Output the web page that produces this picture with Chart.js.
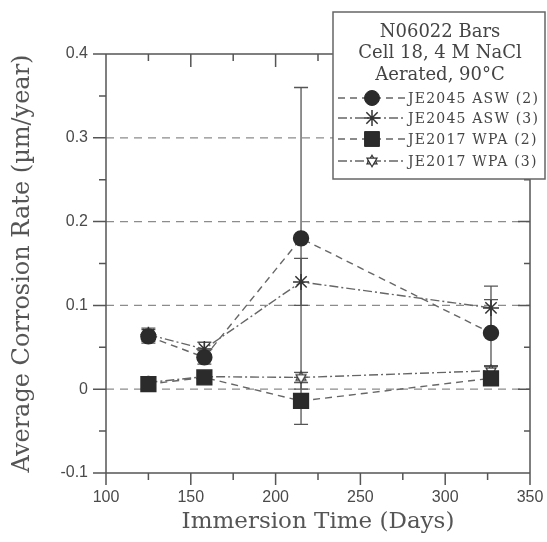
<!DOCTYPE html>
<html>
<head>
<meta charset="utf-8">
<script src="https://cdn.jsdelivr.net/npm/chart.js@4/dist/chart.umd.min.js"></script>
<style>
  html, body { margin: 0; padding: 0; background: #fff; }
  #wrap { width: 547px; height: 542px; }
</style>
</head>
<body>
<div id="wrap"><canvas id="corrosionChart" width="547" height="542"></canvas></div>
<script>
// immersion times (days)
const days = [125, 158, 215, 327];

// average corrosion rate (um/year) with +/- error for each series
const asw2Rate = [0.063, 0.038, 0.18, 0.067];
const asw2Err = [0.008, 0.008, 0.18, 0.04];
const asw3Rate = [0.065, 0.048, 0.128, 0.097];
const asw3Err = [0.008, 0.008, 0.028, 0.026];
const wpa2Rate = [0.006, 0.014, -0.014, 0.013];
const wpa2Err = [0.004, 0.006, 0.028, 0.008];
const wpa3Rate = [0.008, 0.015, 0.014, 0.022];
const wpa3Err = [0.006, 0.006, 0.006, 0.006];

const seriesNames = ["JE2045 ASW (2)", "JE2045 ASW (3)", "JE2017 WPA (2)", "JE2017 WPA (3)"];
const legendTitle = ["N06022 Bars", "Cell 18, 4 M NaCl", "Aerated, 90°C"];

const xTicks = [100, 150, 200, 250, 300, 350];
const yTicks = [-0.1, 0, 0.1, 0.2, 0.3, 0.4];
const yRefLines = [0, 0.1, 0.2, 0.3];

const xTitle = "Immersion Time (Days)";
const yTitle = "Average Corrosion Rate (\u00b5m/year)";

const lineGray = "#666";
const markDark = "#2b2b2b";
const axisGray = "#555";

// open six-pointed star used as a point style
function hexagram(size, lw) {
  const c = document.createElement("canvas");
  c.width = c.height = size;
  const g = c.getContext("2d");
  const r = size / 2 - lw;
  g.strokeStyle = "#333";
  g.fillStyle = "#fff";
  g.lineWidth = lw;
  [-Math.PI / 2, Math.PI / 2].forEach(rot => {
    g.beginPath();
    for (let i = 0; i < 3; i++) {
      const a = rot + i * 2 * Math.PI / 3;
      const px = size / 2 + r * Math.cos(a), py = size / 2 + r * Math.sin(a);
      if (i) g.lineTo(px, py); else g.moveTo(px, py);
    }
    g.closePath();
    g.fill();
    g.stroke();
  });
  return c;
}

const pts = rates => days.map((d, i) => ({ x: d, y: rates[i] }));

const datasets = [
  { label: seriesNames[0], data: pts(asw2Rate), err: asw2Err, borderDash: [7, 5],
    pointStyle: "circle", pointRadius: 7.5, pointBackgroundColor: markDark, pointBorderColor: markDark },
  { label: seriesNames[1], data: pts(asw3Rate), err: asw3Err, borderDash: [9, 3, 2, 3],
    pointStyle: "star", pointRadius: 8, pointBackgroundColor: markDark, pointBorderColor: "#333", pointBorderWidth: 1.5 },
  { label: seriesNames[2], data: pts(wpa2Rate), err: wpa2Err, borderDash: [7, 5],
    pointStyle: "rect", pointRadius: 10.5, pointBackgroundColor: markDark, pointBorderColor: markDark },
  { label: seriesNames[3], data: pts(wpa3Rate), err: wpa3Err, borderDash: [9, 3, 2, 3],
    pointStyle: hexagram(14, 1.2), pointRadius: 7 }
].map(ds => Object.assign({ borderColor: lineGray, borderWidth: 1.4, fill: false, tension: 0 }, ds));

// vertical error bars with caps
const errorBars = {
  id: "errorBars",
  beforeDatasetsDraw(chart) {
    const { ctx, scales: { y } } = chart;
    ctx.save();
    ctx.strokeStyle = axisGray;
    ctx.lineWidth = 1.3;
    chart.data.datasets.forEach((ds, di) => {
      chart.getDatasetMeta(di).data.forEach((pt, i) => {
        const v = ds.data[i].y, e = ds.err[i];
        const top = y.getPixelForValue(v + e), bot = y.getPixelForValue(v - e);
        ctx.beginPath();
        ctx.moveTo(pt.x, top); ctx.lineTo(pt.x, bot);
        ctx.moveTo(pt.x - 7, top); ctx.lineTo(pt.x + 7, top);
        ctx.moveTo(pt.x - 7, bot); ctx.lineTo(pt.x + 7, bot);
        ctx.stroke();
      });
    });
    ctx.restore();
  }
};

// dashed reference lines, box frame and tick marks
const frameTicks = {
  id: "frameTicks",
  beforeDatasetsDraw(chart) {
    const { ctx, chartArea: a, scales: { y } } = chart;
    ctx.save();
    ctx.strokeStyle = "#8c8c8c";
    ctx.lineWidth = 1.3;
    ctx.setLineDash([8, 6]);
    yRefLines.forEach(v => {
      const py = y.getPixelForValue(v);
      ctx.beginPath(); ctx.moveTo(a.left, py); ctx.lineTo(a.right, py); ctx.stroke();
    });
    ctx.restore();
  },
  afterDatasetsDraw(chart) {
    const { ctx, chartArea: a, scales: { x, y } } = chart;
    const mids = t => t.slice(1).map((v, i) => (v + t[i]) / 2);
    const seg = (x1, y1, x2, y2) => { ctx.moveTo(x1, y1); ctx.lineTo(x2, y2); };
    ctx.save();
    ctx.strokeStyle = axisGray;
    ctx.lineWidth = 1.5;
    ctx.beginPath();
    ctx.rect(a.left, a.top, a.right - a.left, a.bottom - a.top);
    xTicks.forEach(v => {
      const px = x.getPixelForValue(v);
      seg(px, a.bottom, px, a.bottom + 12);
      seg(px, a.top, px, a.top + 13);
    });
    mids(xTicks).forEach(v => {
      const px = x.getPixelForValue(v);
      seg(px, a.bottom, px, a.bottom + 7);
      seg(px, a.top, px, a.top + 7);
    });
    yTicks.forEach(v => {
      const py = y.getPixelForValue(v);
      seg(a.left - 13, py, a.left, py);
      seg(a.right - 12, py, a.right, py);
    });
    mids(yTicks).forEach(v => {
      const py = y.getPixelForValue(v);
      seg(a.left - 7, py, a.left, py);
      seg(a.right - 6, py, a.right, py);
    });
    ctx.stroke();
    ctx.restore();
  }
};

// boxed legend in the upper right corner
const boxLegend = {
  id: "boxLegend",
  afterDraw(chart) {
    const { ctx } = chart;
    const bx = 333, by = 12, bw = 212, bh = 167;
    ctx.save();
    ctx.fillStyle = "#fff";
    ctx.fillRect(bx, by, bw, bh);
    ctx.strokeStyle = lineGray;
    ctx.lineWidth = 1.5;
    ctx.strokeRect(bx, by, bw, bh);

    ctx.fillStyle = "#444";
    ctx.font = "18px 'DejaVu Serif'";
    ctx.textAlign = "center";
    ctx.textBaseline = "middle";
    legendTitle.forEach((t, i) => ctx.fillText(t, bx + bw / 2 + 1, 32 + i * 21.5));

    const rowY = [98, 118, 139, 161];
    chart.data.datasets.forEach((ds, i) => {
      const ry = rowY[i];
      ctx.strokeStyle = lineGray;
      ctx.lineWidth = 1.4;
      ctx.setLineDash(ds.borderDash);
      ctx.beginPath(); ctx.moveTo(338, ry); ctx.lineTo(405, ry); ctx.stroke();
      ctx.setLineDash([]);
      ctx.fillStyle = ds.pointBackgroundColor || markDark;
      ctx.strokeStyle = ds.pointBorderColor || markDark;
      ctx.lineWidth = ds.pointBorderWidth || 1;
      Chart.helpers.drawPoint(ctx, {
        pointStyle: ds.pointStyle, radius: ds.pointRadius, rotation: 0, borderWidth: ds.pointBorderWidth || 1
      }, 372, ry);
      ctx.fillStyle = "#444";
      ctx.font = "14px 'DejaVu Serif'";
      ctx.letterSpacing = "1.2px";
      ctx.textAlign = "left";
      ctx.fillText(ds.label, 408, ry + 1);
      ctx.letterSpacing = "0px";
    });
    ctx.restore();
  }
};

const tickFont = { family: "'Liberation Sans', Arial, sans-serif", size: 16 };

new Chart(document.getElementById("corrosionChart"), {
  type: "line",
  data: { datasets },
  options: {
    responsive: false,
    animation: false,
    layout: { padding: { top: 54, right: 17, left: 0, bottom: 0 } },
    plugins: { legend: { display: false }, tooltip: { enabled: false } },
    scales: {
      x: {
        type: "linear", min: 100, max: 350,
        afterBuildTicks: s => { s.ticks = xTicks.map(v => ({ value: v })); },
        afterFit: s => { s.height = 69; s.paddingLeft = 0; s.paddingRight = 0; },
        grid: { display: false, drawTicks: false },
        border: { display: false },
        ticks: { padding: 15, font: tickFont, color: "#4a4a4a", maxRotation: 0 },
        title: { display: true, text: xTitle, font: { family: "'DejaVu Serif', serif", size: 23 }, color: "#555", padding: { top: 0, bottom: 6 } }
      },
      y: {
        type: "linear", min: -0.1, max: 0.4,
        afterBuildTicks: s => { s.ticks = yTicks.map(v => ({ value: v })); },
        afterFit: s => { s.width = 106; s.paddingTop = 0; s.paddingBottom = 0; },
        grid: { display: false, drawTicks: false },
        border: { display: false },
        ticks: { padding: 18, font: tickFont, color: "#4a4a4a" },
        title: { display: true, text: yTitle, font: { family: "'DejaVu Serif', serif", size: 24 }, color: "#555", padding: { top: 8, bottom: 0 } }
      }
    }
  },
  plugins: [frameTicks, errorBars, boxLegend]
});
</script>
</body>
</html>
